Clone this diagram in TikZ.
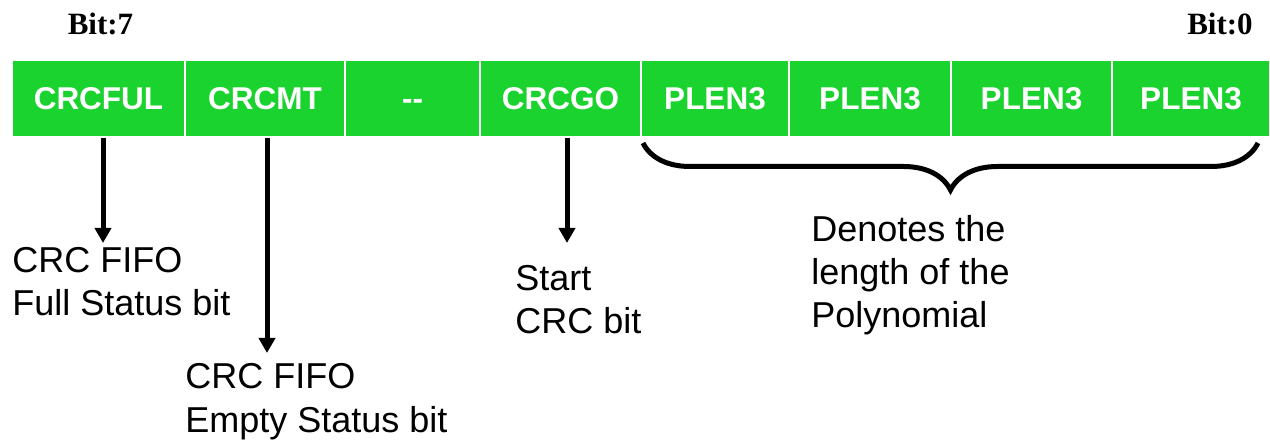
\documentclass[tikz,border=0pt]{standalone}
\usepackage{fontspec}
\setmainfont{Liberation Sans}
\newfontfamily\bitfont{Liberation Serif}
\usetikzlibrary{arrows.meta,decorations.pathreplacing}
\definecolor{regfill}{RGB}{26,211,46}
\tikzset{
  cell/.style={draw=white, line width=1pt, fill=regfill, inner sep=0pt,
    minimum height=38.5pt, text height=11.3pt, text depth=0pt,
    text=white, font=\fontsize{15.75}{18}\selectfont\bfseries},
  bitlabel/.style={anchor=base, inner sep=0pt, font=\bitfont\fontsize{15.5}{18}\selectfont\bfseries},
  note/.style={anchor=base west, inner sep=0pt, align=left, font=\fontsize{18}{21.5}\selectfont},
  pointer/.style={line width=2.5pt, -{Triangle[width=8pt,length=7.5pt]}},
  bracket/.style={line width=2.5pt, decorate, decoration={brace, mirror, amplitude=23.5pt}}
}
\begin{document}
\begin{tikzpicture}[x=0.5pt, y=-0.5pt]
\useasboundingbox (0,0) rectangle (1270,443);
% register cells: left edge / right edge / label / name
\foreach \l/\r/\t/\n in {12/185/CRCFUL/c1, 185/345/CRCMT/c2, 345/480/{-{}-}/c3,
    480/641/CRCGO/c4, 641/789/PLEN3/c5, 789/951/PLEN3/c6,
    951/1112/PLEN3/c7, 1112/1270/PLEN3/c8}
  \node[cell, minimum width={(\r-\l)*0.5pt}] (\n) at ({(\l+\r)/2},98.5) {\t};
% bit numbering
\node[bitlabel] (msb) at (100.5,35) {Bit:7};
\node[bitlabel] (lsb) at (1220,35) {Bit:0};
% descriptions (positioned by the baseline of their last line)
\node[note] (full) at (12,316) {CRC FIFO\\Full Status bit};
\node[note] (empty) at (185,432) {CRC FIFO\\Empty Status bit};
\node[note] (start) at (515,334) {Start\\CRC bit};
\node[note] (plen) at (811,328) {Denotes the\\length of the\\Polynomial};
% arrow ends
\coordinate (tipA) at (103,243);
\coordinate (tipB) at (267,353);
\coordinate (tipC) at (567,243);
\draw[pointer] (c1.south -| tipA) -- (tipA);
\draw[pointer] (c2.south -| tipB) -- (tipB);
\draw[pointer] (c4.south -| tipC) -- (tipC);
% brace under the polynomial length field
\coordinate (braceL) at (643,143);
\coordinate (braceR) at (1258,143);
\draw[bracket] (braceL) -- (braceR);
\end{tikzpicture}
\end{document}
